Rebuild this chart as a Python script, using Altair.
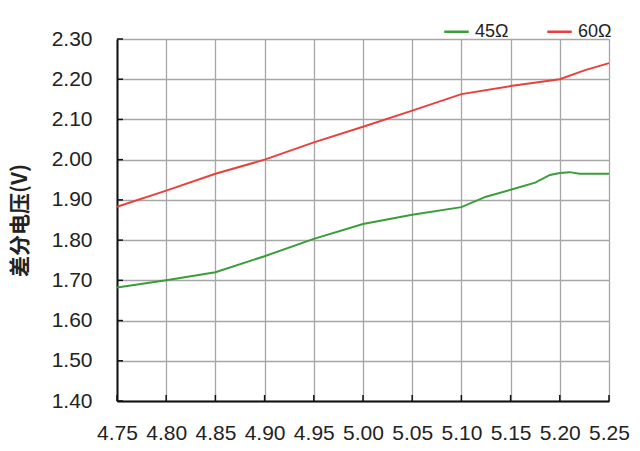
import altair as alt
import pandas as pd

# Series data
x_45 = [4.75, 4.80, 4.85, 4.90, 4.95, 5.00, 5.05, 5.10, 5.125, 5.15, 5.175, 5.19, 5.20, 5.21, 5.22, 5.25]
y_45 = [1.682, 1.700, 1.720, 1.760, 1.803, 1.840, 1.863, 1.882, 1.908, 1.925, 1.943, 1.962, 1.967, 1.969, 1.965, 1.965]

x_60 = [4.75, 4.80, 4.85, 4.90, 4.95, 5.00, 5.05, 5.10, 5.15, 5.20, 5.225, 5.25]
y_60 = [1.883, 1.923, 1.965, 2.000, 2.043, 2.082, 2.122, 2.163, 2.183, 2.200, 2.222, 2.240]

series_names = ["45Ω", "60Ω"]
series_colors = ["#3a9d3a", "#e8413c"]

x_ticks = [4.75, 4.80, 4.85, 4.90, 4.95, 5.00, 5.05, 5.10, 5.15, 5.20, 5.25]
y_ticks = [1.40, 1.50, 1.60, 1.70, 1.80, 1.90, 2.00, 2.10, 2.20, 2.30]

df = pd.concat([
    pd.DataFrame({"x": x_45, "y": y_45, "s": series_names[0]}),
    pd.DataFrame({"x": x_60, "y": y_60, "s": series_names[1]}),
])

FONT = "Liberation Sans"

xscale = alt.Scale(domain=[4.75, 5.25], nice=False, zero=False)
yscale = alt.Scale(domain=[1.40, 2.30], nice=False, zero=False)

lines = alt.Chart(df).mark_line(strokeWidth=2).encode(
    x=alt.X("x:Q", scale=xscale, axis=alt.Axis(
        title=None, values=x_ticks, format=".2f", labelFontSize=21,
        labelFont=FONT, labelColor="#222", labelPadding=21, ticks=False,
        domainColor="#111", domainWidth=2, grid=True, gridColor="#a6a6a6",
        gridWidth=1.3, labelFlush=False)),
    y=alt.Y("y:Q", scale=yscale, axis=alt.Axis(
        title="差分电压(V)", values=y_ticks, format=".2f", labelFontSize=21,
        labelFont=FONT, labelColor="#222", labelPadding=25, ticks=False,
        domainColor="#111", domainWidth=2, grid=True, gridColor="#a6a6a6",
        gridWidth=1.3, titleFont="Noto Sans CJK SC", titleFontSize=21,
        titleFontWeight="bold", titleColor="#222", titlePadding=21,
        labelFlush=False)),
    color=alt.Color("s:N", scale=alt.Scale(domain=series_names, range=series_colors),
                    legend=alt.Legend(title=None, orient="none", legendX=326, legendY=-21,
                                      direction="horizontal", symbolType="stroke",
                                      symbolSize=600, symbolStrokeWidth=2.5,
                                      labelFontSize=18, labelFont=FONT, labelColor="#222",
                                      labelOffset=5, columnPadding=33, padding=0)),
)

ytick_df = pd.DataFrame({"v": y_ticks})
xtick_df = pd.DataFrame({"v": x_ticks})

yt = alt.Chart(ytick_df).mark_rule(color="#111", strokeWidth=1.5).encode(
    y=alt.Y("v:Q", scale=yscale), x=alt.value(0), x2=alt.value(6))
xt = alt.Chart(xtick_df).mark_rule(color="#111", strokeWidth=1.5).encode(
    x=alt.X("v:Q", scale=xscale), y=alt.value(356), y2=alt.value(362))

chart = alt.layer(lines, yt, xt).properties(
    width=492, height=362,
    padding={"left": 109, "top": 31, "right": 23, "bottom": 48},
    autosize=alt.AutoSizeParams(type="none"),
).configure_view(stroke=None).configure(background="white")

chart.save("out.html", embed_options={"renderer": "svg", "actions": False})
